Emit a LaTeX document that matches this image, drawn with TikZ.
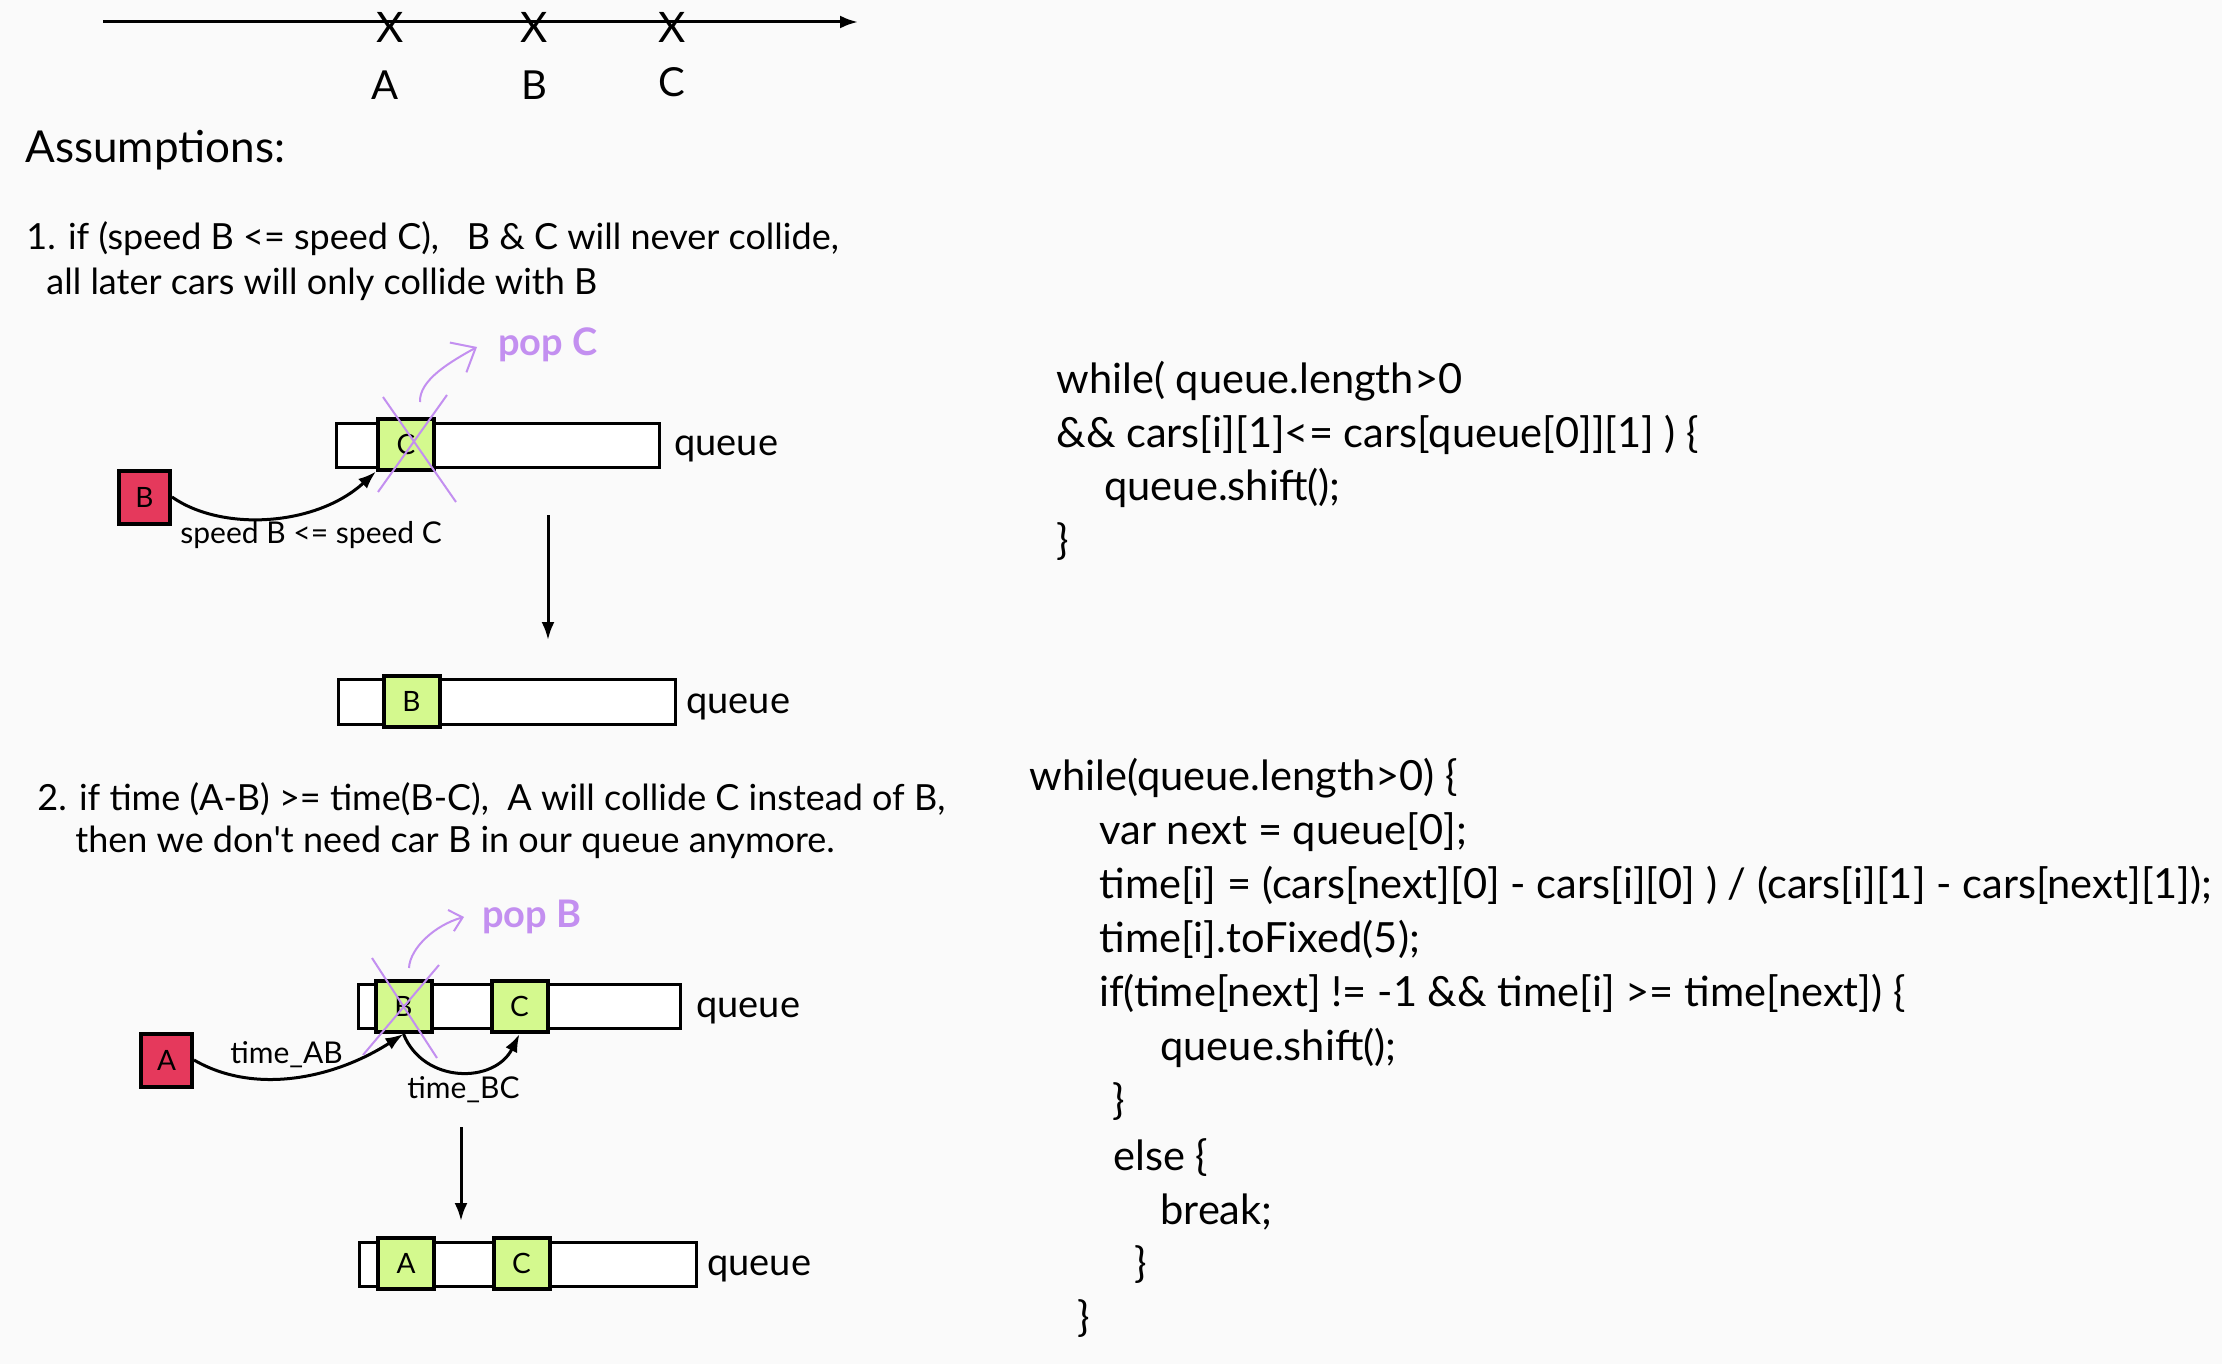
\documentclass[tikz,border=0pt]{standalone}
\usepackage{fontspec}
\setmainfont{Lato}
\usetikzlibrary{positioning,arrows.meta}

\definecolor{carred}{HTML}{E5395C}
\definecolor{cargreen}{HTML}{D4F98E}
\definecolor{poppurple}{HTML}{C38FF0}
\definecolor{paper}{HTML}{FAFAFA}

\tikzset{
	txt/.style={inner sep=0pt, anchor=base west},
	codeline/.style={txt, font=\fontsize{20.8}{21}\selectfont},
	note/.style={txt, font=\fontsize{18}{18}\selectfont},
	edgelbl/.style={txt, font=\fontsize{15}{15}\selectfont},
	qlabel/.style={txt, font=\fontsize{19}{19}\selectfont},
	poplabel/.style={txt, text=poppurple, font=\bfseries\fontsize{19}{19}\selectfont},
	qbox/.style={draw, line width=1.5pt, fill=white, inner sep=0pt},
	car/.style={draw, line width=2pt, fill=cargreen, inner sep=0pt, minimum width=28pt, minimum height=25.5pt, font=\fontsize{14}{14}\selectfont},
	redcar/.style={car, fill=carred, minimum width=25.5pt, minimum height=26.5pt},
	arr/.style={line width=1.5pt, -{Latex[length=9pt, width=6.5pt]}},
	popline/.style={poppurple, line width=1pt}
}

\begin{document}
\begin{tikzpicture}[x=0.5pt, y=-0.5pt]
	\fill[paper] (0,0) rectangle (2222,1364);
	\useasboundingbox (0,0) rectangle (2222,1364);

	%road with the three cars
	\coordinate (axL) at (103,22);
	\coordinate (axR) at (858,22);
	\draw[arr] (axL) -- (axR);
	\node[inner sep=0pt, font=\fontsize{21}{21}\selectfont] (xA) at (390,27) {X};
	\node[inner sep=0pt, font=\fontsize{21}{21}\selectfont] (xB) at (534,27) {X};
	\node[inner sep=0pt, font=\fontsize{21}{21}\selectfont] (xC) at (672,27) {X};
	\node[inner sep=0pt, anchor=base, font=\fontsize{20}{20}\selectfont] (lA) at (385,100) {A};
	\node[inner sep=0pt, anchor=base, font=\fontsize{20}{20}\selectfont] (lB) at (534,100) {B};
	\node[inner sep=0pt, anchor=base, font=\fontsize{20}{20}\selectfont] (lC) at (672,97) {C};

	%assumptions
	\node[txt, font=\fontsize{22}{22}\selectfont] (assume) at (25,163) {Assumptions:};
	\node[note] (as1a) at (26,250) {1. if (speed B <= speed C),\ \ \ B \& C will never collide,};
	\node[note] (as1b) at (46,295) {all later cars will only collide with B};

	%case 1: pop C
	\node[qbox, minimum width=161.5pt, minimum height=22pt] (q1) at (497.5,445) {};
	\node[car] (q1c) at (406,444) {C};
	\node[redcar] (carB) at (144.5,497) {B};
	\node[qlabel] (q1lbl) at (674,455) {queue};
	\node[edgelbl] (spd) at (180,543) {speed B <= speed C};
	\draw[arr] (carB.east) .. controls +(50,35) and +(-60,55) .. (q1c.south west);
	\draw[popline] (383,397) -- (456,502);
	\draw[popline] (447,395) -- (378,492);
	\draw[popline, -{Straight Barb[length=10pt, width=17pt]}] (420,402) .. controls (419,380) and (450,362) .. (477,347);
	\node[poplabel] (popC) at (498,355) {pop C};

	\coordinate (d1s) at (548,515);
	\coordinate (d1e) at (548,640);
	\draw[arr] (d1s) -- (d1e);

	\node[qbox, minimum width=168.5pt, minimum height=22.5pt] (q2) at (506.5,701.5) {};
	\node[car] (q2b) at (411.5,701.5) {B};
	\node[qlabel] (q2lbl) at (686,713) {queue};

	\node[note] (as2a) at (37,810) {2. if time (A-B) >= time(B-C),\ \ A will collide C instead of B,};
	\node[note] (as2b) at (75,852) {then we don\textquotesingle t need car B in our queue anymore.};

	%case 2: pop B
	\node[qbox, minimum width=161pt, minimum height=22pt] (q3) at (519,1006) {};
	\node[car] (q3b) at (403.5,1006.5) {B};
	\node[car] (q3c) at (519.5,1006.5) {C};
	\node[redcar] (carA) at (166.5,1060) {A};
	\node[qlabel] (q3lbl) at (696,1017) {queue};
	\node[edgelbl] (tAB) at (230,1063) {time\_AB};
	\node[edgelbl] (tBC) at (407,1098) {time\_BC};
	\draw[arr] (carA.east) .. controls +(60,35) and +(-70,45) .. (q3b.south);
	\draw[arr] (q3b.south) .. controls +(20,50) and +(-25,50) .. (q3c.south);
	\draw[popline] (372,958) -- (437,1058);
	\draw[popline] (439,965) -- (363,1055);
	\draw[popline, -{Straight Barb[length=6pt, width=11pt]}] (409,968) .. controls (410,948) and (435,925) .. (464,917);
	\node[poplabel] (popB) at (482,927) {pop B};

	\coordinate (d2s) at (461,1127);
	\coordinate (d2e) at (461,1221);
	\draw[arr] (d2s) -- (d2e);

	\node[qbox, minimum width=168.5pt, minimum height=22pt] (q4) at (527.5,1264) {};
	\node[car] (q4a) at (406,1263.5) {A};
	\node[car] (q4c) at (521.5,1263.5) {C};
	\node[qlabel] (q4lbl) at (707,1275) {queue};

	%code for case 1
	\node[codeline] (k1) at (1056,393) {while( queue.length>0};
	\node[codeline] (k2) at (1056,447) {\&\& cars[i][1]<= cars[queue[0]][1] ) \{};
	\node[codeline] (k3) at (1104,500) {queue.shift();};
	\node[codeline] (k4) at (1056,554) {\}};

	%code for case 2
	\node[codeline] (m1) at (1029,790) {while(queue.length>0) \{};
	\node[codeline] (m2) at (1099,844) {var next = queue[0];};
	\node[codeline] (m3) at (1099,898) {time[i] = (cars[next][0] - cars[i][0] ) / (cars[i][1] - cars[next][1]);};
	\node[codeline] (m4) at (1099,952) {time[i].toFixed(5);};
	\node[codeline] (m5) at (1099,1006) {if(time[next] != -1 \&\& time[i] >= time[next]) \{};
	\node[codeline] (m6) at (1160,1060) {queue.shift();};
	\node[codeline] (m7) at (1112,1114) {\}};
	\node[codeline] (m8) at (1113,1170) {else \{};
	\node[codeline] (m9) at (1160,1224) {break;};
	\node[codeline] (m10) at (1134,1277) {\}};
	\node[codeline] (m11) at (1077,1331) {\}};
\end{tikzpicture}
\end{document}
